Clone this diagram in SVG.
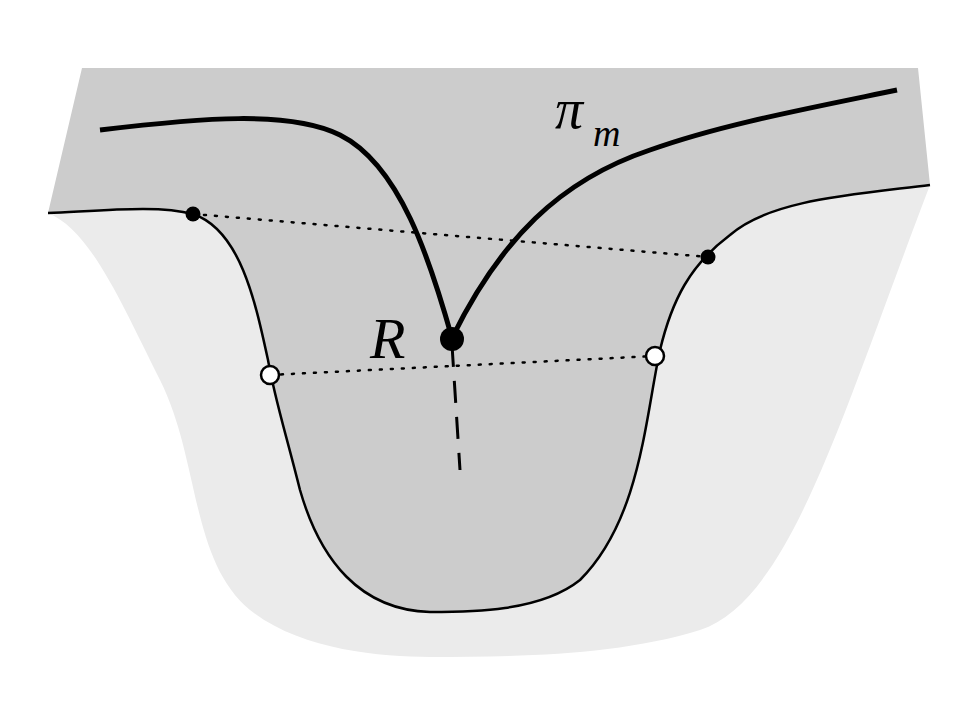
<svg xmlns="http://www.w3.org/2000/svg" width="974" height="715" viewBox="0 0 974 715">
<style>
.lbl{font-family:"Liberation Serif","DejaVu Serif",serif;font-style:italic;fill:#000}
.dot{stroke:#000;stroke-width:2.5;stroke-dasharray:2 9;stroke-linecap:round;fill:none}
</style>
<rect width="974" height="715" fill="#fff"/>
<path d="M48,213 C90,230 120,300 160,380 C200,460 190,560 250,610 C300,650 380,657 430,657 C520,657 620,655 700,630 C790,600 840,420 930,185 Z" fill="#ebebeb"/>
<path d="M82,68 L918,68 L930,185 C850,195 770,200 730,235 C690,265 672,300 660,350 C645,420 640,520 580,580 C540,612 470,612 430,612 C360,610 320,560 300,490 C285,430 275,400 268,360 C255,300 240,230 193,214 C160,205 110,210 48,213 Z" fill="#cccccc"/>
<path d="M48,213 C110,210 160,205 193,214 C240,230 255,300 268,360 C275,400 285,430 300,490 C320,560 360,610 430,612 C470,612 540,612 580,580 C640,520 645,420 660,350 C672,300 690,265 730,235 C770,200 850,195 930,185" fill="none" stroke="#000" stroke-width="2.5"/>
<path d="M100,130 C200,118 290,110 340,135 C400,165 430,260 452,338 M452,338 C500,240 560,180 650,150 C720,125 800,110 897,90" fill="none" stroke="#000" stroke-width="5"/>
<line x1="452" y1="345" x2="460" y2="470" stroke="#000" stroke-width="3" stroke-dasharray="22 14"/>
<line x1="193" y1="214" x2="708" y2="257" class="dot"/>
<line x1="270" y1="375" x2="655" y2="356" class="dot"/>
<circle cx="193" cy="214" r="7.5" fill="#000"/>
<circle cx="708" cy="257" r="7.5" fill="#000"/>
<circle cx="452" cy="339" r="12" fill="#000"/>
<circle cx="270" cy="375" r="9" fill="#fff" stroke="#000" stroke-width="2.5"/>
<circle cx="655" cy="356" r="9" fill="#fff" stroke="#000" stroke-width="2.5"/>
<text x="370" y="358" class="lbl" font-size="58">R</text>
<text x="555" y="128" class="lbl" font-size="56">π</text>
<text x="593" y="146" class="lbl" font-size="38">m</text>
</svg>
